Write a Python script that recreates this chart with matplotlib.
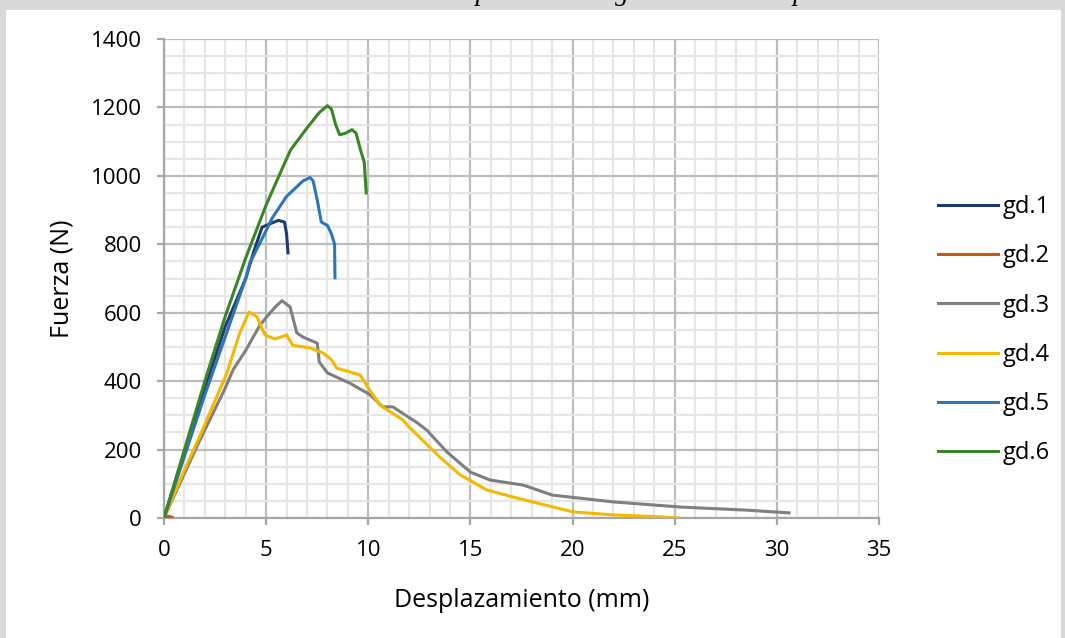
import numpy as np
import matplotlib.pyplot as plt
from matplotlib.ticker import MultipleLocator
from matplotlib.patches import Rectangle

# Desplazamiento (mm) / Fuerza (N)
x_gd1 = [0, 1, 2, 3, 4, 4.4, 4.8, 5.2, 5.6, 5.9, 6.0, 6.07]
y_gd1 = [0, 190, 380, 560, 700, 780, 850, 860, 870, 865, 830, 775]

x_gd2 = [0, 0.1, 0.2, 0.3, 0.4]
y_gd2 = [0, 3, 5, 4, 2]

x_gd3 = [0, 1, 1.76, 3, 3.38, 4, 4.7, 5.2, 5.5, 5.78, 6.17, 6.5, 6.8, 7.5, 7.6, 8.0, 9.1,
         10.1, 10.7, 11.2, 12.4, 12.9, 13.0, 13.85, 15.0, 15.96, 17.6, 19.0, 22.0, 25.3, 28.5, 30.6]
y_gd3 = [0, 130, 228, 380, 433, 490, 564, 600, 620, 635, 617, 541, 529, 511, 456, 424, 394,
         360, 325, 325, 278, 255, 248, 193, 134, 111, 96, 67, 47, 32, 23, 15]

x_gd4 = [0, 1, 1.76, 3.08, 3.7, 4.16, 4.55, 4.94, 5.43, 6.0, 6.3, 7.15, 7.8, 8.2, 8.45, 9.6,
         10.0, 10.57, 11.7, 12.0, 12.7, 13.5, 14.5, 15.8, 17.1, 18.25, 20.0, 22.0, 24.4, 25.2]
y_gd4 = [0, 140, 240, 424, 540, 602, 588, 535, 523, 535, 505, 497, 482, 462, 438, 418,
         380, 330, 286, 266, 225, 178, 126, 82, 61, 44, 18, 9, 3, 0]

x_gd5 = [0, 1, 2, 3, 4, 4.2, 5, 5.3, 6, 6.8, 7.15, 7.3, 7.5, 7.7, 8.0, 8.2, 8.35, 8.37]
y_gd5 = [0, 180, 360, 530, 700, 745, 840, 877, 940, 985, 995, 985, 930, 865, 855, 830, 800, 702]

x_gd6 = [0, 1, 2, 3, 4, 5, 6, 6.2, 7, 7.6, 8.0, 8.2, 8.4, 8.6, 8.9, 9.2, 9.4, 9.6, 9.8, 9.9]
y_gd6 = [0, 200, 400, 590, 760, 915, 1050, 1076, 1140, 1185, 1205, 1195, 1150, 1120, 1125,
         1135, 1125, 1080, 1040, 950]

series = [
    ("gd.1", x_gd1, y_gd1, "#1f3a70"),
    ("gd.2", x_gd2, y_gd2, "#c55a11"),
    ("gd.3", x_gd3, y_gd3, "#7f7f7f"),
    ("gd.4", x_gd4, y_gd4, "#f5b800"),
    ("gd.5", x_gd5, y_gd5, "#2e75b6"),
    ("gd.6", x_gd6, y_gd6, "#3b8526"),
]

plt.rcParams['font.family'] = ['Open Sans', 'DejaVu Sans']

fig = plt.figure(figsize=(10.65, 6.38), dpi=100, facecolor="white")
# borde gris (arriba, izquierda, derecha)
gris = "#d9d9d9"
for r in [(0, 1 - 10 / 638, 1, 10 / 638), (0, 0, 6 / 1065, 1), (1 - 4 / 1065, 0, 4 / 1065, 1)]:
    fig.patches.append(Rectangle(r[:2], r[2], r[3], transform=fig.transFigure,
                                 facecolor=gris, edgecolor="none", zorder=-5))
# pie de figura cortado arriba (solo asoman los trazos descendentes)
fig.text(322 / 1065, 1.0, "Curvas de desplazamiento gd en la unión tipo A",
         family="Liberation Serif", style="italic", fontsize=19.5, va="baseline", ha="left")

ax = fig.add_axes([164 / 1065, 1 - 518 / 638, (879 - 164) / 1065, (518 - 39) / 638])
ax.set_facecolor("white")

for name, xs, ys, c in series:
    ax.plot(xs, ys, color=c, lw=2.2, label=name, zorder=3)

ax.set_xlim(0, 35)
ax.set_ylim(0, 1400)
ax.xaxis.set_major_locator(MultipleLocator(5))
ax.xaxis.set_minor_locator(MultipleLocator(1))
ax.yaxis.set_major_locator(MultipleLocator(200))
ax.yaxis.set_minor_locator(MultipleLocator(50))
ax.grid(which="minor", color="#e6e6e6", lw=1.6)
ax.grid(which="major", color="#bcbcbc", lw=1.6)
ax.set_axisbelow(True)

for s in ["top", "right"]:
    ax.spines[s].set_visible(False)
for s in ["left", "bottom"]:
    ax.spines[s].set_color("#a6a6a6")
    ax.spines[s].set_linewidth(1.6)
ax.tick_params(which="major", length=5, color="#a6a6a6", width=1.6, labelsize=16, pad=11)
ax.tick_params(which="minor", length=0)

ax.set_xlabel("Desplazamiento (mm)", fontsize=18, labelpad=19)
ax.set_ylabel("Fuerza (N)", fontsize=18, labelpad=12)

ax.legend(loc="center left", bbox_to_anchor=(1.082, 0.392), frameon=False, fontsize=17,
          labelspacing=1.07, handlelength=2.55, handletextpad=0.2,
          borderaxespad=0, borderpad=0)

fig.savefig("out.png", dpi=100, facecolor=fig.get_facecolor())
